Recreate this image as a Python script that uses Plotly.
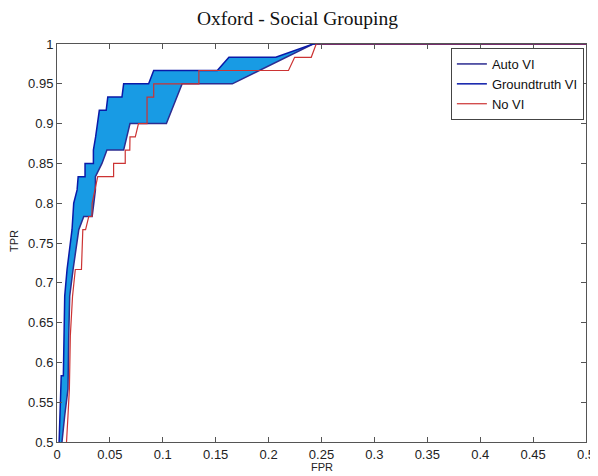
import plotly.graph_objects as go

# Groundtruth VI (upper boundary)
gt_fpr = [0.0020, 0.0020, 0.0040, 0.0060, 0.0073, 0.0095, 0.0142, 0.0158, 0.0190, 0.0200,
          0.0265, 0.0265, 0.0344, 0.0344, 0.0365, 0.0400, 0.0465, 0.0480, 0.0614, 0.0630,
          0.0866, 0.0914, 0.1515, 0.1625, 0.2068, 0.2420, 0.5000]
gt_tpr = [0.4500, 0.5000, 0.5833, 0.5833, 0.6833, 0.7167, 0.7667, 0.8000, 0.8167, 0.8333,
          0.8333, 0.8500, 0.8500, 0.8667, 0.8833, 0.9167, 0.9167, 0.9333, 0.9333, 0.9500,
          0.9500, 0.9667, 0.9667, 0.9833, 0.9833, 1.0000, 1.0000]

# Auto VI (lower boundary)
auto_fpr = [0.0047, 0.0047, 0.0073, 0.0104, 0.0111, 0.0120, 0.0152, 0.0206, 0.0253, 0.0332,
            0.0348, 0.0363, 0.0363, 0.0425, 0.0472, 0.0630, 0.0690, 0.1034, 0.1183, 0.1657,
            0.2420, 0.5000]
auto_tpr = [0.4500, 0.5000, 0.5333, 0.5667, 0.6333, 0.6833, 0.7167, 0.7667, 0.7833, 0.7833,
            0.8000, 0.8167, 0.8333, 0.8500, 0.8667, 0.8667, 0.9000, 0.9000, 0.9500, 0.9500,
            1.0000, 1.0000]

# No VI
novi_fpr = [0.0090, 0.0090, 0.0104, 0.0117, 0.0126, 0.0147, 0.0173, 0.0231, 0.0244, 0.0270,
            0.0300, 0.0330, 0.0332, 0.0360, 0.0385, 0.0535, 0.0535, 0.0645, 0.0645, 0.0688,
            0.0690, 0.0740, 0.0770, 0.0851, 0.0851, 0.0914, 0.0914, 0.1341, 0.1341, 0.2188,
            0.2246, 0.2403, 0.2450, 0.5000]
novi_tpr = [0.4500, 0.5000, 0.5333, 0.5667, 0.6333, 0.6833, 0.7167, 0.7167, 0.7667, 0.7667,
            0.7833, 0.7833, 0.8000, 0.8167, 0.8333, 0.8333, 0.8500, 0.8500, 0.8667, 0.8667,
            0.8833, 0.8833, 0.9000, 0.9000, 0.9333, 0.9333, 0.9500, 0.9500, 0.9667, 0.9667,
            0.9833, 0.9833, 1.0000, 1.0000]

x_ticks = [0, 0.05, 0.1, 0.15, 0.2, 0.25, 0.3, 0.35, 0.4, 0.45, 0.5]
x_labels = ["0", "0.05", "0.1", "0.15", "0.2", "0.25", "0.3", "0.35", "0.4", "0.45", "0.5"]
y_ticks = [0.5, 0.55, 0.6, 0.65, 0.7, 0.75, 0.8, 0.85, 0.9, 0.95, 1]
y_labels = ["0.5", "0.55", "0.6", "0.65", "0.7", "0.75", "0.8", "0.85", "0.9", "0.95", "1"]

fig = go.Figure()

# shaded band between the two VI curves
fig.add_trace(go.Scatter(
    x=gt_fpr + auto_fpr[::-1], y=gt_tpr + auto_tpr[::-1],
    fill="toself", fillcolor="#189be4", mode="none",
    showlegend=False, hoverinfo="skip"))

fig.add_trace(go.Scatter(x=auto_fpr, y=auto_tpr, mode="lines", name="Auto VI",
                         line=dict(color="#2c2c90", width=1.5)))
fig.add_trace(go.Scatter(x=gt_fpr, y=gt_tpr, mode="lines", name="Groundtruth VI",
                         line=dict(color="#0a1aa8", width=1.5)))
fig.add_trace(go.Scatter(x=novi_fpr, y=novi_tpr, mode="lines", name="No VI",
                         line=dict(color="#cc3333", width=1.2)))

axis_common = dict(showgrid=False, zeroline=False, showline=True, mirror="ticks",
                   linecolor="#555555", linewidth=1, ticks="inside", ticklen=5,
                   tickcolor="#555555", automargin=False,
                   tickfont=dict(family="Liberation Sans", size=13, color="#222222"))

fig.update_xaxes(range=[0, 0.5], tickvals=x_ticks, ticktext=x_labels, **axis_common)
fig.update_yaxes(range=[0.5, 1], tickvals=y_ticks, ticktext=y_labels, **axis_common)

# page body adds an 8px offset, so the figure is sized to compensate
fig.update_layout(
    width=590, height=468,
    margin=dict(l=49, r=12, t=36, b=34),
    paper_bgcolor="white", plot_bgcolor="white",
    showlegend=True,
    legend=dict(x=0.996, xanchor="right", y=0.99, yanchor="top",
                bgcolor="white", bordercolor="#444444", borderwidth=1,
                font=dict(family="Liberation Sans", size=13, color="#111111"),
                tracegroupgap=0, itemwidth=30),
    annotations=[
        dict(text="Oxford - Social Grouping", xref="paper", yref="paper", x=0.454, y=1.0,
             yshift=26, showarrow=False, xanchor="center", yanchor="middle",
             font=dict(family="Liberation Serif", size=19.5, color="#111111")),
        dict(text="FPR", xref="paper", yref="paper", x=0.5, y=0, yshift=-25,
             showarrow=False, xanchor="center", yanchor="middle",
             font=dict(family="Liberation Sans", size=11, color="#222222")),
        dict(text="TPR", xref="paper", yref="paper", x=0, y=0.505, xshift=-43,
             showarrow=False, textangle=-90, xanchor="center", yanchor="middle",
             font=dict(family="Liberation Sans", size=11, color="#222222")),
    ],
)

fig.write_html("out.html")
